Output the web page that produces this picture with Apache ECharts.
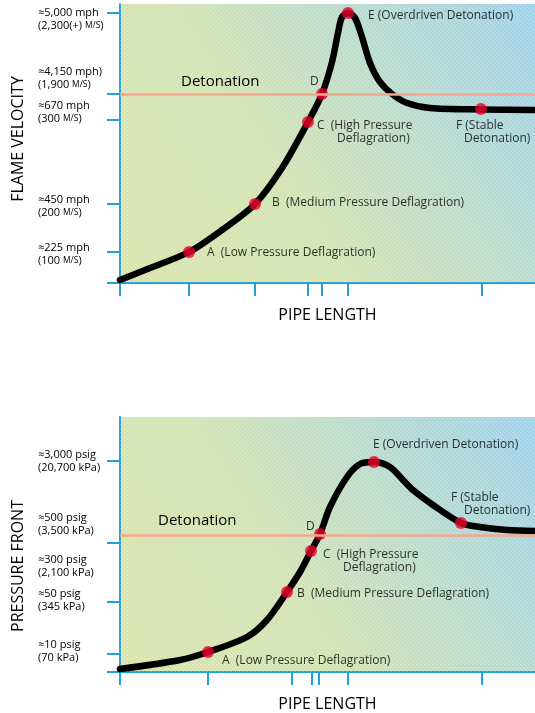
<!DOCTYPE html>
<html>
<head>
<meta charset="utf-8">
<script src="https://cdn.jsdelivr.net/npm/echarts@6/dist/echarts.min.js"></script>
<style>
html,body{margin:0;padding:0;background:#fff;}
#chart{width:535px;height:713px;}
</style>
</head>
<body>
<div id="chart"></div>
<script>
// ---------- DATA ----------
// x: relative pipe length units; y: relative level units (axis is a schematic scale)
const xMax = 415;
const pipeTicksTop = [0, 69, 135, 188, 202, 228, 362];
const pipeTicksBottom = [0, 88, 172, 192, 199, 228, 362];

// Flame velocity panel
const velocityMax = 279;
const velocityTickLevels = [0, 31, 79, 163, 189, 270];
const velocityLabelLevels = [29, 77, 171, 204.5, 264];
const velocityLabelMain = ['≈225 mph', '≈450 mph', '≈670 mph', '≈4,150 mph)', '≈5,000 mph'];
const velocityLabelSub = ['(100 M/S)', '(200 M/S)', '(300 M/S)', '(1,900 M/S)', '(2,300(+) M/S)'];
const detonationVelocity = 189;
const velocityCurveX = [0, 30, 69, 102, 135, 162, 188, 202, 212, 218, 222, 228, 235, 242, 250, 260, 272, 287, 310, 360, 415];
const velocityCurveY = [3, 15, 31, 53, 79, 115, 161, 189, 221, 250, 266, 270, 265, 246, 220, 201, 189, 180, 175, 173.5, 173];
const velocityPointX = [69, 135, 188, 202, 228, 361];
const velocityPointY = [31, 79, 161, 189, 270, 174];
const velocityPointText = ['A  (Low Pressure Deflagration)', 'B  (Medium Pressure Deflagration)', 'C  (High Pressure\nDeflagration)', 'D', 'E (Overdriven Detonation)', 'F (Stable\nDetonation)'];

// Pressure front panel
const pressureMax = 255;
const pressureTickLevels = [0, 18, 70, 129, 211];
const pressureLabelLevels = [20.5, 71.5, 106, 147.5, 211];
const pressureLabelMain = ['≈10 psig', '≈50 psig', '≈300 psig', '≈500 psig', '≈3,000 psig'];
const pressureLabelSub = ['(70 kPa)', '(345 kPa)', '(2,100 kPa)', '(3,500 kPa)', '(20,700 kPa)'];
const detonationPressure = 137;
const pressureCurveX = [0, 60, 88, 127, 147, 167, 180, 191, 200, 210, 227, 240, 254, 270, 283, 293, 313, 341, 360, 387, 415];
const pressureCurveY = [3, 12, 20, 35, 52, 80, 100, 121, 138, 165, 195, 208, 210, 205, 192, 182, 167, 149, 145, 142, 141];
const pressurePointX = [88, 167, 191, 200, 254, 341];
const pressurePointY = [20, 80, 121, 138, 210, 149];
const pressurePointText = ['A  (Low Pressure Deflagration)', 'B  (Medium Pressure Deflagration)', 'C  (High Pressure\nDeflagration)', 'D', 'E (Overdriven Detonation)', 'F (Stable\nDetonation)'];

// ---------- STYLE / LAYOUT ----------
const FONT = '"Open Sans", "Noto Sans", sans-serif';
const AXIS_BLUE = '#1ea1e2';
const TEXT = '#000000';
const ORANGE = '#f5a88b';
const RED = '#e8002a';
// label placement per point: [offsetX, offsetY, secondLineIndent]
const velocityLabelPlace = [[18, 1, 0], [17, -1, 0], [9, 10, 20], [-12, -12, 0], [20, 3, 0], [-25, 23, 8]];
const pressureLabelPlace = [[14, 9, 0], [10, 2, 0], [12, 10, 20], [-14, -7, 0], [-1, -17, 0], [-10, -19, 13]];

function hatchCanvas() {
  const s = 4;
  const c = document.createElement('canvas');
  c.width = s; c.height = s;
  const ctx = c.getContext('2d');
  ctx.strokeStyle = 'rgba(255,255,255,0.35)';
  ctx.lineWidth = 0.8;
  ctx.beginPath();
  for (const k of [-s, 0, s]) { ctx.moveTo(k, 0); ctx.lineTo(k + s, s); }
  ctx.stroke();
  return c;
}
const hatch = hatchCanvas();

function bgGradient() {
  return new echarts.graphic.LinearGradient(0, 1, 1, 0, [
    { offset: 0, color: '#d8e5a9' },
    { offset: 0.38, color: '#d3e4b0' },
    { offset: 0.68, color: '#b8dccd' },
    { offset: 1, color: '#9bd3ee' }
  ]);
}

function zip(xs, ys) { return xs.map((x, i) => [x, ys[i]]); }

function yLabelFormatter(levels, mains, subs) {
  return function (v) {
    const i = levels.findIndex(l => Math.abs(l - v) < 1e-6);
    if (i < 0) return '';
    const sub = subs[i].split('M/S');
    let subRich = '{a|' + sub[0] + '}';
    if (sub.length > 1) subRich += '{s|M/S}{a|' + sub[1] + '}';
    return '{a|' + mains[i] + '}\n' + subRich;
  };
}

function xAxisFor(gridIndex, ticks) {
  return {
    type: 'value', gridIndex, min: 0, max: xMax,
    name: 'PIPE LENGTH', nameLocation: 'middle', nameGap: 24,
    nameTextStyle: { fontFamily: FONT, fontSize: 16, color: TEXT },
    axisLine: { show: true, onZero: false, lineStyle: { color: AXIS_BLUE, width: 2 } },
    axisTick: { show: true, customValues: ticks, length: 13, lineStyle: { color: AXIS_BLUE, width: 2 } },
    axisLabel: { show: false },
    splitLine: { show: false }
  };
}

function yAxisFor(gridIndex, max, tickLevels, labelLevels, mains, subs) {
  return {
    type: 'value', gridIndex, min: 0, max: max,
    axisLine: { show: true, onZero: false, lineStyle: { color: AXIS_BLUE, width: 2 } },
    axisTick: { show: true, customValues: tickLevels, length: 13, lineStyle: { color: AXIS_BLUE, width: 2 } },
    axisLabel: {
      show: true, customValues: labelLevels, align: 'left', margin: 82, color: TEXT,
      formatter: yLabelFormatter(labelLevels, mains, subs),
      rich: {
        a: { fontFamily: FONT, fontSize: 11, color: TEXT, lineHeight: 13 },
        s: { fontFamily: FONT, fontSize: 8.5, color: TEXT, lineHeight: 13 }
      }
    },
    splitLine: { show: false }
  };
}

function pointData(xs, ys, texts, place) {
  return xs.map((x, i) => {
    const lines = texts[i].split('\n');
    const p = place[i];
    const fmt = lines.length > 1 ? '{l1|' + lines[0] + '}\n{l2|' + lines[1] + '}' : '{l1|' + lines[0] + '}';
    return {
      value: [x, ys[i]],
      label: {
        show: true, position: 'inside', align: 'left', verticalAlign: 'middle',
        offset: [p[0], p[1]], color: TEXT, textBorderWidth: 0,
        formatter: fmt,
        rich: {
          l1: { fontFamily: FONT, fontSize: 12, color: TEXT, lineHeight: 13 },
          l2: { fontFamily: FONT, fontSize: 12, color: TEXT, lineHeight: 13, padding: [0, 0, 0, p[2]] }
        }
      }
    };
  });
}

function panelSeries(idx, max, curveX, curveY, ptX, ptY, ptText, place, detLevel, detDist) {
  return [
    {
      type: 'line', xAxisIndex: idx, yAxisIndex: idx, data: [], silent: true, z: 1,
      markArea: {
        silent: true,
        itemStyle: { color: { image: hatch, repeat: 'repeat' } },
        data: [[{ coord: [0, 0] }, { coord: [xMax, max] }]]
      }
    },
    {
      type: 'line', xAxisIndex: idx, yAxisIndex: idx, z: 2, silent: true,
      data: [], symbol: 'none',
      markLine: {
        silent: true, symbol: 'none', animation: false,
        lineStyle: { color: ORANGE, width: 2.5, type: 'solid' },
        label: {
          show: true, position: 'insideStartTop', distance: detDist,
          formatter: 'Detonation', fontFamily: FONT, fontSize: 15, color: TEXT
        },
        data: [{ yAxis: detLevel }]
      }
    },
    {
      type: 'line', xAxisIndex: idx, yAxisIndex: idx, z: 3,
      data: zip(curveX, curveY), smooth: 0.3,
      showSymbol: false, symbol: 'none',
      lineStyle: { color: '#000', width: 6.5, cap: 'round', join: 'round' }
    },
    {
      type: 'scatter', xAxisIndex: idx, yAxisIndex: idx, z: 4,
      symbolSize: 12, itemStyle: { color: RED },
      data: pointData(ptX, ptY, ptText, place)
    }
  ];
}

const chart = echarts.init(document.getElementById('chart'), null, { renderer: 'canvas' });
chart.setOption({
  animation: false,
  backgroundColor: '#ffffff',
  grid: [
    { left: 120, right: 0, top: 4, height: 279, show: true, borderWidth: 0, backgroundColor: bgGradient() },
    { left: 120, right: 0, top: 417, height: 255, show: true, borderWidth: 0, backgroundColor: bgGradient() }
  ],
  xAxis: [xAxisFor(0, pipeTicksTop), xAxisFor(1, pipeTicksBottom)],
  yAxis: [
    yAxisFor(0, velocityMax, velocityTickLevels, velocityLabelLevels, velocityLabelMain, velocityLabelSub),
    yAxisFor(1, pressureMax, pressureTickLevels, pressureLabelLevels, pressureLabelMain, pressureLabelSub)
  ],
  graphic: [
    { type: 'text', x: 18, y: 139, rotation: Math.PI / 2,
      style: { text: 'FLAME VELOCITY', fontFamily: FONT, fontSize: 16, fill: TEXT, align: 'center', verticalAlign: 'middle' } },
    { type: 'text', x: 18, y: 566, rotation: Math.PI / 2,
      style: { text: 'PRESSURE FRONT', fontFamily: FONT, fontSize: 16, fill: TEXT, align: 'center', verticalAlign: 'middle' } }
  ],
  series: [].concat(
    panelSeries(0, velocityMax, velocityCurveX, velocityCurveY, velocityPointX, velocityPointY, velocityPointText, velocityLabelPlace, detonationVelocity, [61, 5]),
    panelSeries(1, pressureMax, pressureCurveX, pressureCurveY, pressurePointX, pressurePointY, pressurePointText, pressureLabelPlace, detonationPressure, [38, 7])
  )
});
</script>
</body>
</html>
